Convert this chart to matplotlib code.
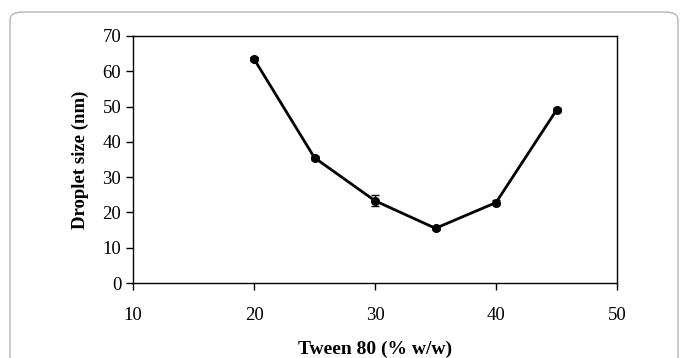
import matplotlib
matplotlib.use('Agg')
import matplotlib.pyplot as plt
from matplotlib.patches import FancyBboxPatch

tween = [20, 25, 30, 35, 40, 45]
droplet = [63.5, 35.5, 23.3, 15.5, 22.8, 49.0]
err = [0.5, 0.6, 1.5, 0.4, 0.8, 0.5]
xticks = [10, 20, 30, 40, 50]
yticks = [0, 10, 20, 30, 40, 50, 60, 70]

plt.rcParams['font.family'] = ['Liberation Serif', 'DejaVu Serif']

fig = plt.figure(figsize=(6.83, 3.58), dpi=100)
# rounded frame round the figure
frame = FancyBboxPatch((10 / 683, -0.1), 668 / 683, 1.1 - 12 / 358,
                       boxstyle='round,pad=0,rounding_size=0.02',
                       transform=fig.transFigure, fill=False,
                       edgecolor='#b5b5b5', linewidth=1.0)
fig.patches.append(frame)

ax = fig.add_axes([133 / 683, 1 - 283 / 358, 484 / 683, 247 / 358])
ax.errorbar(tween, droplet, yerr=err, color='black', linewidth=2,
            marker='o', markersize=5.5, capsize=3, elinewidth=1, capthick=1)
ax.set_xlim(10, 50)
ax.set_ylim(0, 70)
ax.set_xticks(xticks)
ax.set_yticks(yticks)
ax.tick_params(direction='out', length=5, labelsize=13.5, width=1)
ax.tick_params(axis='x', pad=12)
for s in ax.spines.values():
    s.set_linewidth(1)
ax.set_xlabel('Tween 80 (% w/w)', fontsize=14, fontweight='bold', labelpad=12)
ax.set_ylabel('Droplet size (nm)', fontsize=13.5, fontweight='bold', labelpad=10)

fig.savefig('out.png', dpi=100)
